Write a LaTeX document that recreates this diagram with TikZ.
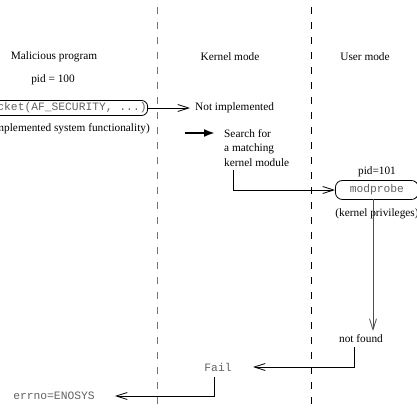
\documentclass[tikz,border=0pt]{standalone}
\usepackage{fontspec}
\setmainfont{Liberation Serif}
\setmonofont{Liberation Mono}
\usetikzlibrary{arrows.meta}
\begin{document}
\begin{tikzpicture}[x=1pt,y=-1pt,
  lbl/.style={font=\fontsize{11.3}{14.5}\selectfont, inner sep=0},
  code/.style={font=\fontsize{11.3}{14.5}\selectfont\ttfamily, text=black!62, inner sep=0},
  cbox/.style={draw, line width=0.8pt, rounded corners=6pt, inner xsep=3pt},
  conn/.style={line width=0.8pt, -{Straight Barb[length=11pt,width=7pt]}},
  bigarrow/.style={line width=2pt, -{Latex[length=11pt,width=8pt]}},
  sepline/.style={dash pattern=on 7pt off 8pt, line width=1pt}
]
\useasboundingbox (0,0) rectangle (417,409);
% separators
\draw[sepline, black!55] (157,7) -- (157,409);
\draw[sepline] (311,7) -- (311,409);
% headers
\node[lbl] (hmal) at (54,57) {Malicious program};
\node[lbl] (hker) at (230,57) {Kernel mode};
\node[lbl] (husr) at (365,57) {User mode};
\node[lbl] (pid1) at (53,80) {pid = 100};
% socket call
\node[code, cbox, inner xsep=1pt, minimum height=15pt, anchor=east] (sock) at (148,108) {socket(AF\_SECURITY, ...)};
\node[lbl, anchor=east] (unimpl) at (150,129) {(unimplemented system functionality)};
\node[lbl, anchor=west] (ni) at (195,108) {Not implemented};
\draw[conn, shorten >=5pt] (sock.east) -- (ni.west);
% search
\node[lbl, anchor=north west, align=left] (search) at (224,129) {Search for\\a matching\\kernel module};
\coordinate (t1) at (185,133);
\coordinate (t2) at (215,133);
\draw[bigarrow] (t1) -- (t2);
% modprobe
\node[lbl] (pid2) at (377,172) {pid=101};
\node[code, cbox, rounded corners=7pt, minimum width=83pt, minimum height=19pt, anchor=west] (mp) at (335,190) {modprobe};
\node[lbl] (kpriv) at (377,214) {(kernel privileges)};
\coordinate (s1) at (233,170);
\draw[conn] (s1) |- (mp.west);
\coordinate (m1) at (373,199);
\coordinate (m2) at (373,331);
\draw[conn, black!70] (m1) -- (m2);
\node[lbl] (nf) at (361,339) {not found};
% fail
\node[code] (fail) at (218,367) {Fail};
\coordinate (nfb) at (354,347);
\coordinate (ftip) at (253,367);
\draw[conn] (nfb) |- (ftip);
\node[code] (errno) at (54,396) {errno=ENOSYS};
\coordinate (fb) at (214,377);
\coordinate (etip) at (115,396);
\draw[conn] (fb) |- (etip);
\end{tikzpicture}
\end{document}
